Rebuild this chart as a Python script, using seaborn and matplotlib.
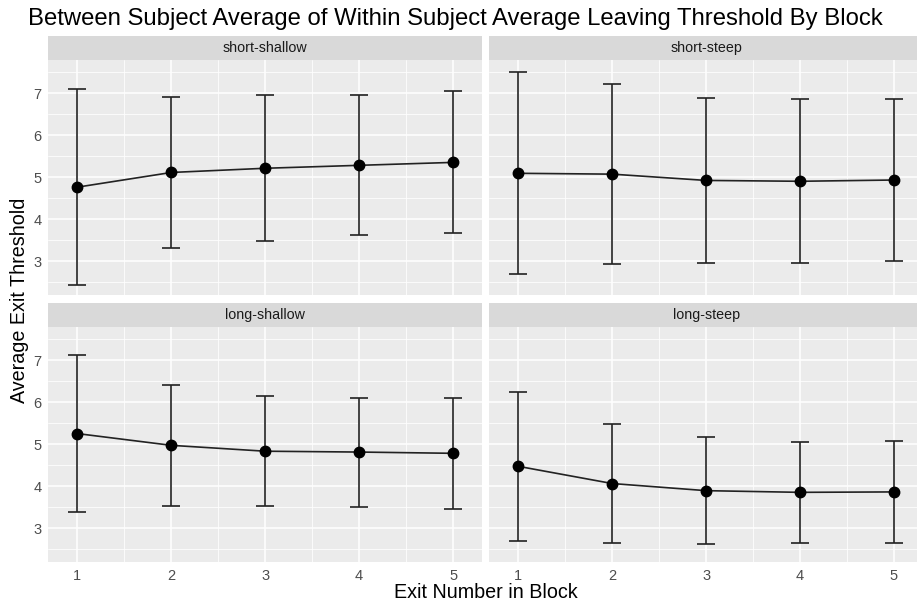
import numpy as np
import pandas as pd
import matplotlib
matplotlib.use("Agg")
import matplotlib.pyplot as plt
from matplotlib.patches import Rectangle
from matplotlib.ticker import MultipleLocator
import seaborn as sns

# summary values
exits = [1, 2, 3, 4, 5]
conditions = ["short-shallow", "short-steep", "long-shallow", "long-steep"]

short_shallow_mean = [4.76, 5.11, 5.21, 5.28, 5.35]
short_shallow_err = [2.33, 1.79, 1.74, 1.67, 1.69]
short_steep_mean = [5.09, 5.07, 4.92, 4.90, 4.93]
short_steep_err = [2.41, 2.14, 1.96, 1.95, 1.92]
long_shallow_mean = [5.25, 4.97, 4.83, 4.81, 4.78]
long_shallow_err = [1.88, 1.44, 1.31, 1.30, 1.33]
long_steep_mean = [4.47, 4.06, 3.89, 3.85, 3.86]
long_steep_err = [1.78, 1.41, 1.28, 1.21, 1.22]

means = [short_shallow_mean, short_steep_mean, long_shallow_mean, long_steep_mean]
errs = [short_shallow_err, short_steep_err, long_shallow_err, long_steep_err]

rows = []
for cond, m, e in zip(conditions, means, errs):
    for x, mv, ev in zip(exits, m, e):
        rows.append({"condition": cond, "exit": x, "mean": mv, "err": ev})
df = pd.DataFrame(rows)

sns.set_theme(style="darkgrid", rc={
    "axes.facecolor": "#EBEBEB",
    "grid.color": "white",
    "axes.edgecolor": "#EBEBEB",
})
plt.rcParams["font.family"] = ["Liberation Sans", "DejaVu Sans"]


def draw(data, **kws):
    ax = plt.gca()
    ax.errorbar(data["exit"], data["mean"], yerr=data["err"],
                color="#222222", lw=1.2, capsize=6.8, capthick=1.2,
                marker="o", ms=7.5, mfc="black", mec="black", zorder=3)


g = sns.FacetGrid(df, col="condition", col_wrap=2, col_order=conditions,
                  sharex=True, sharey=True, height=3, aspect=1.5)
g.map_dataframe(draw)

fig = g.figure
fig.set_size_inches(9.17, 6.08)
W, H = 917, 608
fig.subplots_adjust(left=48.3 / W, right=923 / W, top=1 - 60 / H, bottom=1 - 562 / H,
                    wspace=7 / 434, hspace=32 / 235)

strip_h = 24 / 235
for i, (ax, cond) in enumerate(zip(g.axes.flat, conditions)):
    ax.set_title("")
    ax.set_xlabel("")
    ax.set_ylabel("")
    ax.set_xlim(0.69, 5.31)
    ax.set_ylim(2.19, 7.79)
    ax.xaxis.set_major_locator(MultipleLocator(1))
    ax.xaxis.set_minor_locator(MultipleLocator(0.5))
    ax.yaxis.set_major_locator(MultipleLocator(1))
    ax.yaxis.set_minor_locator(MultipleLocator(0.5))
    ax.grid(which="major", color="white", lw=1.1)
    ax.grid(which="minor", color="white", lw=0.55)
    for s in ax.spines.values():
        s.set_visible(False)
    ax.tick_params(which="minor", length=0)
    ax.tick_params(which="major", length=3, width=0.8, color="#333333",
                   labelcolor="#4D4D4D", labelsize=10.5, pad=2)
    if i % 2 == 1:
        ax.tick_params(axis="y", which="major", length=0)
    if i < 2:
        ax.tick_params(axis="x", which="major", length=0)
    ax.add_patch(Rectangle((0, 1), 1, strip_h, transform=ax.transAxes,
                           facecolor="#D9D9D9", edgecolor="none", clip_on=False))
    ax.text(0.5, 1 + strip_h / 2, cond, transform=ax.transAxes, ha="center",
            va="center", fontsize=10.3, color="#1A1A1A")

fig.text(28 / W, 1 - 19 / H, "Between Subject Average of Within Subject Average Leaving Threshold By Block",
         ha="left", va="center", fontsize=17.2, color="black")
fig.text(486 / W, 1 - 593 / H, "Exit Number in Block", ha="center", va="center",
         fontsize=14.2, color="black")
fig.text(20 / W, 1 - 300 / H, "Average Exit Threshold", ha="center", va="center",
         rotation=90, fontsize=14.2, color="black")

fig.savefig("out.png", dpi=100)
